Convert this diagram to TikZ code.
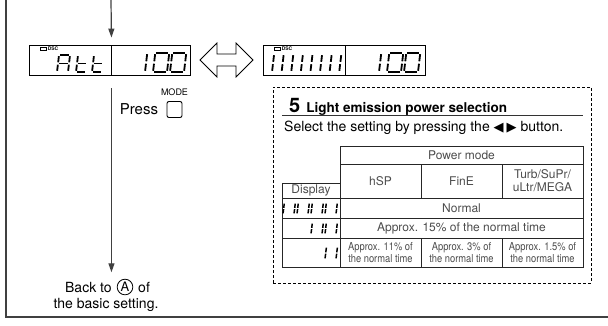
\documentclass[tikz,border=0pt]{standalone}
\usepackage{fontspec}
\setmainfont{TeX Gyre Heros}
\newfontfamily\narrowfont[FakeStretch=0.85]{TeX Gyre Heros}
\newfontfamily\symfont{DejaVu Sans}
\usepackage{tikz}
\usetikzlibrary{arrows.meta}
\usetikzlibrary{positioning}

% 7-segment character: x, y (bottom left), width, height, segments
\def\segg{1.2}
\newcommand{\lcdchar}[5]{%
  \begin{scope}[shift={(#1,#2)}, xslant=0.12]
    \def\segw{#3}\def\segh{#4}
    \foreach \s in {#5} {
      \if a\s \draw[lcdseg] (\segg,-\segh) -- (\segw-\segg,-\segh); \fi
      \if b\s \draw[lcdseg] (\segw,-\segh+\segg) -- (\segw,-\segh/2-\segg); \fi
      \if c\s \draw[lcdseg] (\segw,-\segh/2+\segg) -- (\segw,-\segg); \fi
      \if d\s \draw[lcdseg] (\segg,0) -- (\segw-\segg,0); \fi
      \if e\s \draw[lcdseg] (0,-\segh/2+\segg) -- (0,-\segg); \fi
      \if f\s \draw[lcdseg] (0,-\segh+\segg) -- (0,-\segh/2-\segg); \fi
      \if g\s \draw[lcdseg] (\segg,-\segh/2) -- (\segw-\segg,-\segh/2); \fi
    }
  \end{scope}}

\begin{document}
\begin{tikzpicture}[x=1pt, y=-1pt,
  lcdbox/.style={draw, line width=0.9pt, minimum height=30pt, inner sep=0pt},
  lcdseg/.style={line width=1.8pt},
  dscmark/.style={draw, line width=0.6pt, minimum width=6pt, minimum height=3pt, inner sep=0pt},
  dsc/.style={font=\fontsize{5}{5}\selectfont\bfseries, inner sep=0pt},
  cell/.style={draw=black!85, line width=0.8pt, inner sep=0pt, align=center, text=black!70, font=\fontsize{12}{13}\selectfont},
  small cell/.style={cell, font=\narrowfont\fontsize{11}{11.5}\selectfont},
  note/.style={font=\fontsize{14}{17}\selectfont},
  flow/.style={->, draw=black!75, line width=1.2pt},
]
\tikzset{>={Triangle[length=9pt, width=6pt]}}

\useasboundingbox (0,0) rectangle (608,325);

% Frame
\draw[black!75, line width=1.3pt] (6,0) -- (6,317) -- (608,317);

% Displays
\node[lcdbox, minimum width=82pt] (att) at (70,60) {};
\node[lcdbox, minimum width=79pt] (att val) at (150.5,60) {};
\node[lcdbox, minimum width=82pt] (blink) at (304,60) {};
\node[lcdbox, minimum width=80pt] (blink val) at (385,60) {};

\node[dscmark] (dsc att) at (43.5,48.5) {};
\node[dsc, right=0.8pt of dsc att] {DSC};
\node[dscmark] (dsc blink) at (277.5,48.5) {};
\node[dsc, right=0.8pt of dsc blink] {DSC};

% Att 100
\lcdchar{57}{72}{11}{17}{a,b,c,e,f,g}
\lcdchar{76}{72}{10}{17}{d,e,f,g}
\lcdchar{92}{72}{10}{17}{d,e,f,g}
\lcdchar{145}{72}{0}{19}{e,f}
\lcdchar{153}{72}{14}{19}{a,b,c,d,e,f}
\lcdchar{170}{72}{14}{19}{a,b,c,d,e,f}

% blinking bars 100
\foreach \i in {0,...,7} {
  \lcdchar{272+9.6*\i}{72}{0}{18}{e,f}
}
\lcdchar{379}{72}{0}{19}{e,f}
\lcdchar{387}{72}{14}{19}{a,b,c,d,e,f}
\lcdchar{404}{72}{14}{19}{a,b,c,d,e,f}

% Swap arrow
\coordinate (swap) at (226.5,60);
\draw[line width=0.8pt] ([xshift=-26.5pt]swap) -- ++(17,-17) -- ++(0,11) -- ++(19,0)
  -- ++(0,-11) -- ++(17,17) -- ++(-17,17) -- ++(0,-11) -- ++(-19,0) -- ++(0,11) -- cycle;

% Entry and mode flow
\coordinate (entry) at (111,0);
\draw[flow] (entry) -- ([yshift=7pt]att.north east);

\node[draw, rounded corners=2pt, line width=0.9pt, minimum width=15pt, minimum height=16pt, inner sep=0pt] (mode btn) at (174.5,109.5) {};
\node[font=\fontsize{9}{9}\selectfont, inner sep=0pt, above=5pt of mode btn] (mode) {MODE};
\node[font=\fontsize{15}{15}\selectfont, left=5pt of mode btn] (press) {Press};

\node[circle, draw, line width=0.8pt, inner sep=1pt, font=\fontsize{13}{13}\selectfont] (A) at (125,287) {A};
\node[note, left=1.5pt of A] (back) {Back to};
\node[note, right=1.5pt of A] (of) {of};
\node[note] (basic) at (106,305) {the basic setting.};

\coordinate (mode line) at ([yshift=-13pt]att.south east);
\coordinate (back top) at (mode line |- back.north);
\draw[flow] (mode line) -- ([yshift=6pt]back top);

% Light emission panel
\node[draw, dashed, dash pattern=on 3pt off 2pt, line width=0.8pt, minimum width=318pt, minimum height=196pt] (panel) at (432,185) {};
\node[anchor=base west, inner sep=0pt] (title) at (289,112)
  {{\fontsize{20}{20}\selectfont\bfseries 5}\hspace{6pt}{\fontsize{13.5}{15}\selectfont\bfseries Light emission power selection}};
\coordinate (rule l) at (282,115);
\coordinate (rule r) at (583,115);
\draw[line width=0.8pt, black!80] (rule l) -- (rule r);
\node[anchor=base west, inner sep=0pt, font=\fontsize{14}{16}\selectfont] (select) at (284,131)
  {Select the setting by pressing the {\symfont\fontsize{13}{13}\selectfont ◀\hspace{3pt}▶} button.};

% Table
\node[cell, minimum width=243pt, minimum height=18pt] (pmode) at (461.5,155) {Power mode};
\node[cell, minimum width=81pt, minimum height=34pt] (hsp) at (380.5,181) {hSP};
\node[cell, minimum width=81pt, minimum height=34pt] (fine) at (461.5,181) {FinE};
\node[cell, minimum width=81pt, minimum height=34pt] (turb) at (542.5,181) {Turb/SuPr/\\uLtr/MEGA};
\node[cell, minimum width=58pt, minimum height=15pt] (disp) at (311,190.5) {Display};

\node[cell, minimum width=58pt, minimum height=20pt] (disp normal) at (311,208) {};
\node[cell, minimum width=243pt, minimum height=20pt] (normal) at (461.5,208) {Normal};
\node[cell, minimum width=58pt, minimum height=20pt] (disp mid) at (311,228) {};
\node[cell, minimum width=243pt, minimum height=20pt] (mid) at (461.5,228) {Approx. 15\% of the normal time};
\node[cell, minimum width=58pt, minimum height=29pt] (disp low) at (311,252.5) {};
\node[small cell, minimum width=81pt, minimum height=29pt] (low hsp) at (380.5,252.5) {Approx. 11\% of\\the normal time};
\node[small cell, minimum width=81pt, minimum height=29pt] (low fine) at (461.5,252.5) {Approx. 3\% of\\the normal time};
\node[small cell, minimum width=81pt, minimum height=29pt] (low turb) at (542.5,252.5) {Approx. 1.5\% of\\the normal time};

% level bars
\tikzset{lcdseg/.style={line width=1.5pt}}
\def\segg{0.6}
\foreach \d in {0,...,3} {
  \lcdchar{283+14*\d}{214}{11}{11}{b,c,e,f}
}
\foreach \d in {2,3} {
  \lcdchar{283+14*\d}{234}{11}{11}{b,c,e,f}
}
\lcdchar{325}{259}{11}{12}{b,c,e,f}

\end{tikzpicture}
\end{document}
